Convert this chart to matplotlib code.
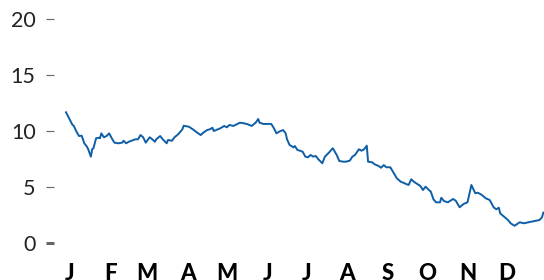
import numpy as np
import matplotlib
matplotlib.use("Agg")
import matplotlib.pyplot as plt

# day of year (0 = Jan 1) and value
days = [0, 3, 5, 6, 8, 10, 12, 14, 16, 17, 19, 20, 21, 23, 25, 26, 27, 29, 31, 33,
        35, 37, 40, 43, 44, 46, 48, 50, 53, 55, 57, 59, 61, 64, 66, 68, 69, 72, 74, 77,
        78, 81, 83, 86, 89, 90, 94, 97, 100, 103, 105, 108, 110, 112, 113, 116, 118, 121, 123, 125,
        128, 131, 133, 136, 138, 139, 142, 145, 147, 148, 151, 154, 157, 159, 161, 163, 166, 168, 169, 171,
        174, 175, 177, 179, 181, 183, 185, 187, 189, 191, 193, 196, 198, 201, 204, 207, 209, 212, 214, 217,
        219, 221, 224, 226, 228, 230, 231, 234, 236, 239, 241, 243, 245, 248, 250, 253, 256, 258, 260, 262,
        264, 266, 269, 271, 273, 275, 277, 279, 281, 283, 286, 287, 289, 292, 296, 298, 301, 304, 307, 308,
        310, 313, 315, 318, 321, 324, 327, 329, 331, 332, 335, 338, 340, 343, 345, 347, 350, 352, 356, 359,
        362, 364, 365]
values = [11.67, 10.98, 10.54, 10.45, 9.94, 9.55, 9.58, 8.90, 8.60, 8.37, 7.71, 8.37, 8.46, 9.35, 9.40, 9.35, 9.79, 9.44, 9.55, 9.79,
          9.35, 8.96, 8.90, 8.96, 9.13, 8.90, 9.04, 9.13, 9.26, 9.26, 9.64, 9.44, 8.96, 9.44, 9.26, 9.04, 9.26, 9.55, 9.26, 8.90,
          9.20, 9.13, 9.44, 9.73, 10.15, 10.47, 10.38, 10.15, 9.88, 9.64, 9.85, 10.09, 10.15, 10.29, 10.00, 10.15, 10.24, 10.45, 10.33, 10.54,
          10.45, 10.63, 10.74, 10.69, 10.63, 10.60, 10.45, 10.74, 11.07, 10.74, 10.63, 10.63, 10.63, 10.24, 9.79, 9.94, 10.09, 9.79, 9.26, 8.75,
          8.54, 8.66, 8.30, 8.24, 8.15, 7.71, 7.65, 7.86, 7.71, 7.77, 7.47, 7.12, 7.71, 8.06, 8.46, 7.86, 7.32, 7.26, 7.26, 7.35,
          7.71, 7.86, 8.37, 8.24, 8.37, 8.69, 7.26, 7.21, 7.03, 6.88, 6.72, 6.96, 6.76, 6.76, 6.37, 5.78, 5.47, 5.38, 5.27, 5.18,
          5.69, 5.47, 5.24, 5.09, 4.73, 5.03, 4.79, 4.58, 3.90, 3.63, 3.63, 4.04, 3.75, 3.63, 3.93, 3.78, 3.19, 3.48, 3.63, 4.13,
          5.18, 4.44, 4.49, 4.29, 3.99, 3.84, 3.19, 3.01, 3.15, 2.65, 2.35, 2.05, 1.76, 1.54, 1.70, 1.85, 1.76, 1.81, 1.90, 1.99,
          2.05, 2.29, 2.71]

months = ["J", "F", "M", "A", "M", "J", "J", "A", "S", "O", "N", "D"]
month_days = [31, 28, 31, 30, 31, 30, 31, 31, 30, 31, 30, 31]
yticks = [0, 5, 10, 15, 20]

month_start = np.concatenate([[0], np.cumsum(month_days)[:-1]])

W, H = 544, 280
fig = plt.figure(figsize=(W / 100, H / 100), dpi=100)
ax = fig.add_axes([66 / W, 37 / H, 477.3 / W, 224 / H])

ax.plot(days, values, color="#0e5ea8", lw=1.4, clip_on=False)

ax.set_xlim(0, 365)
ax.set_ylim(0, 20)

for s in ["top", "right", "bottom"]:
    ax.spines[s].set_visible(False)
ax.spines["left"].set_position(("outward", 8.6))
ax.spines["left"].set_visible(False)

ax.set_yticks(yticks)
ax.set_yticklabels([str(t) for t in yticks], family="Lato", fontsize=15.5, color="#222222")
ax.tick_params(axis="y", length=5.8, width=0.8, color="#666666", pad=7.5)
zero = ax.yaxis.get_major_ticks()[0]
zero.tick1line.set_markeredgewidth(2.2)
zero.tick1line.set_color("black")

ax.set_xticks(month_start + 3)
ax.set_xticklabels(months, family="Lato", fontweight="black", fontsize=16, color="black")
ax.tick_params(axis="x", length=0, pad=14.5)

fig.savefig("out.png", dpi=100)
